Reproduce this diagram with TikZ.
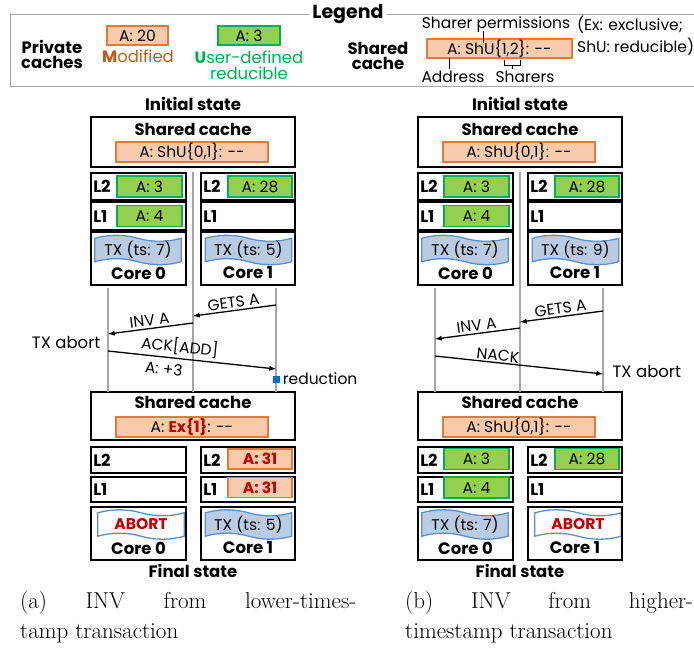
\documentclass[tikz,border=0pt]{standalone}
\usepackage{fontspec}
\newfontfamily\fut{Poppins}
\usetikzlibrary{backgrounds}
\definecolor{orgfill}{HTML}{F8CBAD}
\definecolor{orgline}{HTML}{E07B39}
\definecolor{modtxt}{HTML}{C55A11}
\definecolor{grnfill}{HTML}{92D050}
\definecolor{grnline}{HTML}{00B050}
\definecolor{redtxt}{HTML}{C00000}
\definecolor{bandfill}{HTML}{B9CCE4}
\definecolor{bandline}{HTML}{5B8FCB}
\definecolor{lifegray}{HTML}{A6A6A6}
\definecolor{redblue}{HTML}{0070C0}
\begin{document}
\begin{tikzpicture}[x=1pt,y=-1pt,font=\fut\fontsize{15.5}{16}\selectfont,
  hd/.style={font=\fut\bfseries\fontsize{16.5}{17}\selectfont},
  frame/.style={draw, line width=1.7pt, inner sep=0pt},
  modbox/.style={draw=orgline, fill=orgfill, line width=1.3pt, minimum height=20pt, inner sep=0pt},
  udbox/.style={draw=grnline, fill=grnfill, line width=1.3pt, minimum height=21pt, inner sep=0pt},
  txb/.style={minimum width=86pt, minimum height=23pt, inner sep=0pt},
  band/.style={draw=bandline, fill=bandfill, line width=1.3pt},
  redval/.style={text=redtxt, font=\fut\bfseries\fontsize{15.5}{16}\selectfont},
  life/.style={draw=lifegray, line width=1.3pt},
  msg/.style={->, >=latex, line width=1.3pt}]
\useasboundingbox (0,0) rectangle (694,649);
\clip (0,0) rectangle (694,649);

% legend
\draw[lifegray, line width=1pt] (10,14) rectangle (710,86);
\node[fill=white, font=\fut\bfseries\fontsize{19}{20}\selectfont] (leg) at (348,14) {Legend};
\node[hd, align=center] (priv) at (52,54) {Private\\[-2pt]caches};
\node[modbox, minimum width=61pt, minimum height=19pt] (mod) at (137.5,35.5) {A: 20};
\node[text=modtxt, font=\fut\fontsize{16.5}{17}\selectfont] (modt) at (138,56) {\textbf{M}odified};
\node[udbox, minimum width=62pt, minimum height=19pt] (ud) at (249,35.5) {A: 3};
\node[text=grnline, align=center, font=\fut\fontsize{16.5}{17}\selectfont] (udt) at (249,65) {\textbf{U}ser-defined\\[-1pt]reducible};
\node[hd, align=center] (shr) at (378,56) {Shared\\[-2pt]cache};
\node[modbox, minimum width=145pt, minimum height=19pt] (ent) at (499.5,48.5) {A: ShU\{1,2\}: --};
\node (perm) at (496,25) {Sharer permissions};
\node[anchor=west, inner sep=1pt] (ex) at (576,25) {(Ex: exclusive;};
\node[anchor=west, inner sep=1pt] (shu) at (576,47) {ShU: reducible)};
\node (addr) at (453,77) {Address};
\node (shs) at (525,77) {Sharers};
\draw[line width=0.8pt] (483,31) -- (483,43);
\draw[line width=0.8pt] (449,58) -- (449,69);
\draw[line width=0.8pt] (504,60) -- (504,65) -- (520,65) -- (520,60) (512,65) -- (512,69);

% common frames of both panels
\foreach \p/\dx in {a/0,b/327}{
  \node[hd] (\p-init) at (193+\dx,104) {Initial state};
  \node[frame, minimum width=204pt, minimum height=50pt] (\p-sc0) at (193+\dx,142) {};
  \node[hd] at (193+\dx,129) {Shared cache};
  \node[modbox, minimum width=152pt] (\p-dir0) at (192+\dx,152) {A: ShU\{0,1\}: --};
  \node[frame, minimum width=95pt, minimum height=27pt] (\p-l2a) at (138.5+\dx,186.5) {};
  \node[frame, minimum width=94pt, minimum height=27pt] (\p-l2b) at (248+\dx,186.5) {};
  \node[frame, minimum width=95pt, minimum height=28pt] (\p-l1a) at (138.5+\dx,216) {};
  \node[frame, minimum width=94pt, minimum height=28pt] (\p-l1b) at (248+\dx,216) {};
  \node[frame, minimum width=95pt, minimum height=53pt] (\p-c0) at (138.5+\dx,258.5) {};
  \node[frame, minimum width=94pt, minimum height=53pt] (\p-c1) at (248+\dx,258.5) {};
  \node[frame, minimum width=204pt, minimum height=48pt] (\p-sc1) at (193+\dx,416) {};
  \node[hd] at (193+\dx,402) {Shared cache};
  \node[frame, minimum width=95pt, minimum height=26pt] (\p-l2c) at (138.5+\dx,460) {};
  \node[frame, minimum width=94pt, minimum height=26pt] (\p-l2d) at (248+\dx,460) {};
  \node[frame, minimum width=95pt, minimum height=25pt] (\p-l1c) at (138.5+\dx,489.5) {};
  \node[frame, minimum width=94pt, minimum height=25pt] (\p-l1d) at (248+\dx,489.5) {};
  \node[frame, minimum width=95pt, minimum height=53pt] (\p-c2) at (138.5+\dx,533.5) {};
  \node[frame, minimum width=94pt, minimum height=53pt] (\p-c3) at (248+\dx,533.5) {};
  \foreach \r/\t in {l2a/L2,l2b/L2,l1a/L1,l1b/L1,l2c/L2,l2d/L2,l1c/L1,l1d/L1}
    \node[hd, anchor=west, inner sep=0pt] at ([xshift=3pt]\p-\r.west) {\t};
  \node[hd] at (138.5+\dx,273) {Core 0};
  \node[hd] at (248+\dx,273) {Core 1};
  \node[hd] at (138.5+\dx,548) {Core 0};
  \node[hd] at (248+\dx,548) {Core 1};
  \node[hd] (\p-fin) at (193+\dx,571) {Final state};
  \coordinate (\p-la0) at (108+\dx,288);
  \coordinate (\p-la1) at (108+\dx,392);
  \coordinate (\p-lb0) at (193+\dx,172);
  \coordinate (\p-lb1) at (193+\dx,392);
  \coordinate (\p-lc0) at (276+\dx,288);
  \coordinate (\p-lc1) at (276+\dx,392);
  \draw[life] (\p-la0) -- (\p-la1);
  \draw[life] (\p-lb0) -- (\p-lb1);
  \draw[life] (\p-lc0) -- (\p-lc1);
}

% (a) lower-timestamp requester
\node[udbox, minimum width=65pt] (a-v2a) at (149.5,186.5) {A: 3};
\node[udbox, minimum width=65pt] (a-v1a) at (149.5,216) {A: 4};
\node[udbox, minimum width=64pt] (a-v2b) at (260,186.5) {A: 28};
\node[txb] (a-tx0) at (138,250) {TX (ts: 7)};
\node[txb] (a-tx1) at (248.5,250) {TX (ts: 5)};
\coordinate (a-m1s) at (276,305);
\coordinate (a-m1e) at (193,316);
\coordinate (a-m2s) at (193,323);
\coordinate (a-m2e) at (108,334);
\coordinate (a-m3s) at (108,351);
\coordinate (a-m3e) at (276,369);
\draw[msg] (a-m1s) -- node[above, sloped, inner sep=2pt] {GETS A} (a-m1e);
\draw[msg] (a-m2s) -- node[above, sloped, inner sep=2pt] {INV A} (a-m2e);
\draw[msg] (a-m3s) -- node[pos=0.42, above, sloped, inner sep=2.5pt] {ACK[ADD]}
  node[pos=0.34, below, sloped, inner sep=5pt] {A: +3} (a-m3e);
\node[anchor=east, font=\fut\fontsize{16.5}{17}\selectfont] (a-ab) at (104,342) {TX abort};
\node[fill=redblue, minimum size=7pt, inner sep=0pt] (a-red) at (276,379) {};
\node[anchor=west, inner sep=1pt] (a-redt) at ([xshift=2pt]a-red.east) {reduction};
\node[modbox, minimum width=152pt] (a-dir1) at (192,427) {A: \textcolor{redtxt}{\bfseries Ex\{1\}}: --};
\node[modbox, minimum width=64pt, redval] (a-v2d) at (260,459) {A: 31};
\node[modbox, minimum width=64pt, redval] (a-v1d) at (260,487.5) {A: 31};
\node[txb, redval] (a-tx2) at (141,524.5) {ABORT};
\node[txb] (a-tx3) at (248.5,524.5) {TX (ts: 5)};

% (b) higher-timestamp requester
\node[udbox, minimum width=65pt] (b-v2a) at (476.5,186.5) {A: 3};
\node[udbox, minimum width=65pt] (b-v1a) at (476.5,216) {A: 4};
\node[udbox, minimum width=64pt] (b-v2b) at (587,186.5) {A: 28};
\node[txb] (b-tx0) at (465,250) {TX (ts: 7)};
\node[txb] (b-tx1) at (575.5,250) {TX (ts: 9)};
\coordinate (b-m1s) at (603,311);
\coordinate (b-m1e) at (520,322);
\coordinate (b-m2s) at (520,328);
\coordinate (b-m2e) at (435,339);
\coordinate (b-m3s) at (435,356);
\coordinate (b-m3e) at (603,374);
\draw[msg] (b-m1s) -- node[above, sloped, inner sep=2pt] {GETS A} (b-m1e);
\draw[msg] (b-m2s) -- node[above, sloped, inner sep=2pt] {INV A} (b-m2e);
\draw[msg] (b-m3s) -- node[pos=0.37, above, sloped, inner sep=1pt] {NACK} (b-m3e);
\node[anchor=west, font=\fut\fontsize{16.5}{17}\selectfont] (b-ab) at (609,371) {TX abort};
\node[modbox, minimum width=152pt] (b-dir1) at (519,427) {A: ShU\{0,1\}: --};
\node[udbox, minimum width=65pt] (b-v2c) at (476.5,459) {A: 3};
\node[udbox, minimum width=65pt] (b-v1c) at (476.5,487.5) {A: 4};
\node[udbox, minimum width=64pt] (b-v2d) at (587,459) {A: 28};
\node[txb] (b-tx2) at (465,524.5) {TX (ts: 7)};
\node[txb, redval] (b-tx3) at (578,524.5) {ABORT};

% wavy transaction bands
\begin{scope}[on background layer]
\foreach \n/\f in {a-tx0/bandfill,a-tx1/bandfill,a-tx3/bandfill,b-tx0/bandfill,b-tx1/bandfill,b-tx2/bandfill,a-tx2/white,b-tx3/white}
  \filldraw[band, fill=\f] (\n.north west) .. controls +(14,-4) and +(-14,-4) .. (\n.north)
    .. controls +(14,4) and +(-14,4) .. (\n.north east) -- (\n.south east)
    .. controls +(-14,4) and +(14,4) .. (\n.south)
    .. controls +(-14,-4) and +(14,-4) .. (\n.south west) -- cycle;
\end{scope}

% captions
\node[anchor=west, inner sep=0pt, font=\rmfamily\fontsize{23}{26}\selectfont] (capa) at (20,603) {\makebox[336pt][s]{(a) INV from lower-times-}};
\node[anchor=west, inner sep=0pt, font=\rmfamily\fontsize{23}{26}\selectfont] (capa2) at (20,633) {tamp transaction};
\node[anchor=west, inner sep=0pt, font=\rmfamily\fontsize{23}{26}\selectfont] (capb) at (405,603) {\makebox[288pt][s]{(b) INV from higher-}};
\node[anchor=west, inner sep=0pt, font=\rmfamily\fontsize{23}{26}\selectfont] (capb2) at (405,633) {timestamp transaction};
\end{tikzpicture}
\end{document}
